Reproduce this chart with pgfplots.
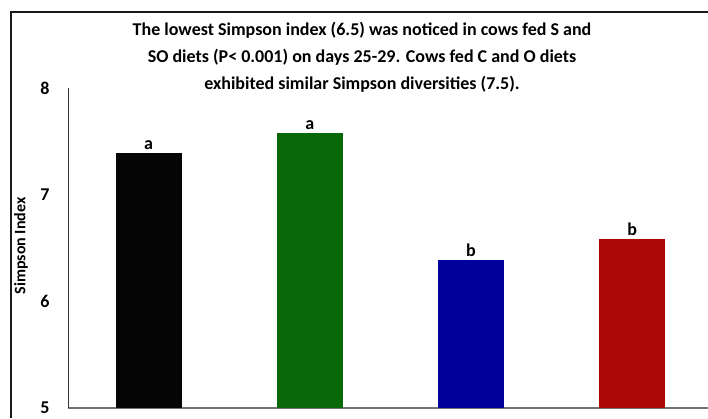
\documentclass[border=0pt]{standalone}
\usepackage{fontspec}
\setmainfont{Carlito}
\usepackage{pgfplots}
\pgfplotsset{compat=1.18}
\definecolor{barblack}{RGB}{5,5,5}
\definecolor{bargreen}{RGB}{6,104,6}
\definecolor{barblue}{RGB}{0,0,155}
\definecolor{barred}{RGB}{173,6,6}
\begin{document}
\begin{tikzpicture}
  \useasboundingbox (-68pt,-10pt) rectangle (640pt,408pt);
  % outer chart frame (only its top and left edges are in the picture)
  \draw[black!90, line width=1.2pt] (-57pt,-10pt) -- (-57pt,396pt) -- (640pt,396pt);
  \node[align=center, font=\bfseries\fontsize{18}{27}\selectfont] at (294pt,351pt)
    {The lowest Simpson index (6.5) was noticed in cows fed S and\\
     SO diets (P< 0.001) on days 25-29. Cows fed C and O diets\\
     exhibited similar Simpson diversities (7.5).};
  \node[rotate=90, font=\bfseries\fontsize{16}{16}\selectfont] at (-47pt,162pt) {Simpson Index};
  \begin{axis}[
      scale only axis,
      width=640pt, height=320pt,
      xmin=-0.5, xmax=3.47,
      ymin=5, ymax=8,
      ytick={5,6,7,8},
      yticklabels={\textbf{5},\textbf{6},\textbf{7},\textbf{8}},
      xtick=\empty,
      axis x line=bottom, axis y line=left,
      axis line style={-},
      x axis line style={draw=black!55, line width=1.5pt},
      y axis line style={draw=black!80, line width=0.8pt},
      major tick length=0pt,
      yticklabel style={anchor=center, xshift=-23pt,
        font=\bfseries\fontsize{18}{18}\selectfont},
      every node near coord/.append style={font=\bfseries\fontsize{18}{18}\selectfont},
    ]
    \addplot[ybar, bar width=66pt, bar shift=0pt, fill=barblack, draw=none,
      nodes near coords={a}] coordinates {(0,7.39)};
    \addplot[ybar, bar width=66pt, bar shift=0pt, fill=bargreen, draw=none,
      nodes near coords={a}] coordinates {(1,7.58)};
    \addplot[ybar, bar width=66pt, bar shift=0pt, fill=barblue, draw=none,
      nodes near coords={b}] coordinates {(2,6.39)};
    \addplot[ybar, bar width=66pt, bar shift=0pt, fill=barred, draw=none,
      nodes near coords={b}] coordinates {(3,6.58)};
  \end{axis}
\end{tikzpicture}
\end{document}
